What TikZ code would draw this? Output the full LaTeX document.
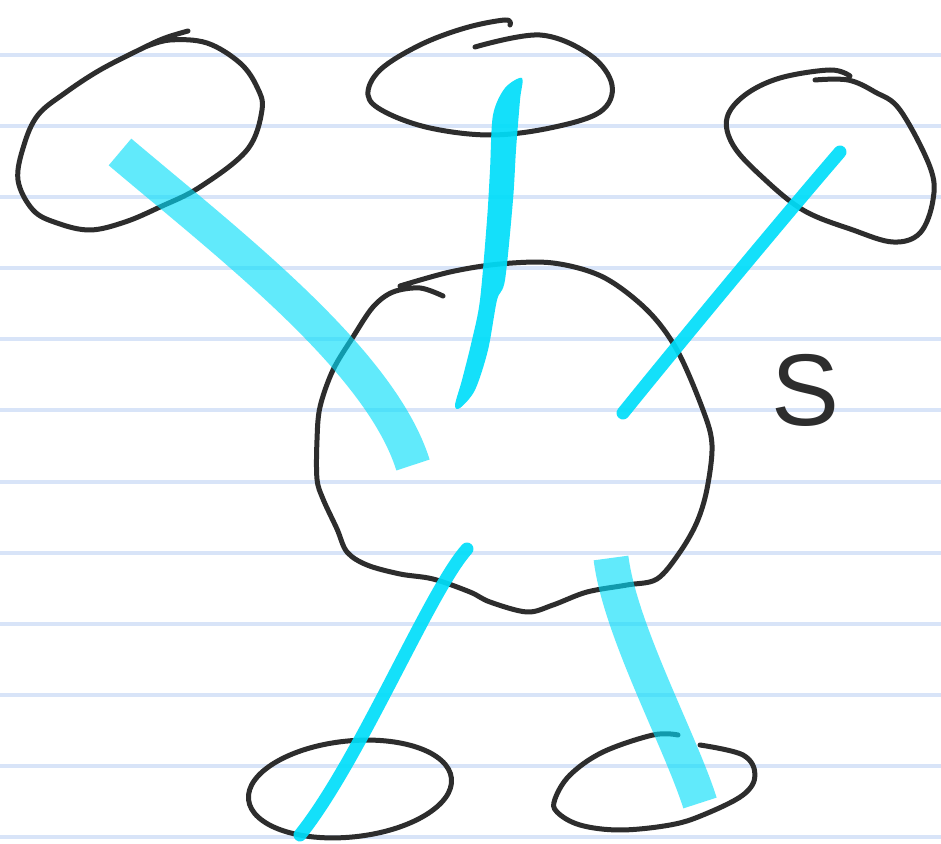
\documentclass[tikz,border=0pt]{standalone}
\usepackage{fontspec}
\newfontfamily\labelfont{Liberation Sans}
\definecolor{rulec}{RGB}{216,228,248}
\definecolor{inkc}{RGB}{45,45,45}
\definecolor{hlc}{RGB}{0,222,250}
\begin{document}
\begin{tikzpicture}[x=0.02cm,y=-0.02cm,
  ruleline/.style={draw=rulec, line width=0.08cm},
  inkline/.style={draw=inkc, line width=0.1cm, line cap=round, line join=round},
  thickhl/.style={draw=hlc, opacity=0.62, line width=0.7cm, line cap=butt},
  thinhl/.style={draw=hlc, opacity=0.92, line width=0.26cm, line cap=round},
  fillhl/.style={fill=hlc, opacity=0.92},
  labeltext/.style={font=\labelfont\fontsize{58}{60}\selectfont, text=inkc, inner sep=0pt}]
\fill[white] (0,0) rectangle (941,844);
\useasboundingbox (0,0) rectangle (941,844);
% ruled paper
\foreach \k in {0,...,11} \draw[ruleline] (0,{55+71.1*\k}) -- (941,{55+71.1*\k});
% top-left ellipse
\draw[inkline] plot[smooth, tension=0.6] coordinates {(188,31) (165,38) (143,48) (100,70) (65,93) (38,115) (24,145) (18,180) (33,210) (57,223) (90,230) (125,222) (160,207) (200,187) (247,150) (262,110) (257,87) (240,63) (207,43) (170,40) (145,47)};
% top-center ellipse
\draw[inkline] plot[smooth, tension=0.6] coordinates {(475,47) (540,35) (590,55) (612,85) (600,112) (550,128) (490,135) (430,128) (385,112) (368,95) (380,70) (420,45) (465,28) (505,20) (510,25)};
% top-right ellipse
\draw[inkline] plot[smooth, tension=0.6] coordinates {(815,80) (848,80) (875,92) (900,110) (930,167) (933,200) (920,233) (893,242) (853,230) (803,210) (760,175) (733,145) (727,118) (745,95) (780,78) (830,70) (850,76)};
% central blob
\draw[inkline] plot[smooth, tension=0.55] coordinates {(443,296) (420,288) (393,292) (373,307) (353,337) (333,370) (320,407) (317,440) (317,479) (323,499) (337,529) (347,552) (367,565) (400,574) (433,579) (470,592) (490,602) (527,612) (553,605) (587,592) (627,585) (657,579) (680,552) (697,522) (707,489) (712,445) (703,410) (677,350) (647,310) (603,277) (553,263) (500,264) (450,272) (400,286)};
% bottom-left ellipse
\draw[inkline, rotate around={6:(350,789)}] (350,789) ellipse [x radius=102, y radius=48];
% bottom-right ellipse
\draw[inkline] plot[smooth, tension=0.6] coordinates {(700,745) (743,755) (755,775) (743,795) (703,815) (670,825) (620,830) (580,825) (557,812) (555,799) (570,775) (603,752) (653,735) (678,735)};
% label
\node[labeltext] (s) at (805,390) {S};
% hub points in the blob
\coordinate (hA) at (413,465);
\coordinate (hB) at (460,408);
\coordinate (hC) at (623,413);
\coordinate (hD) at (467,549);
\coordinate (hE) at (611,558);
% ends in the satellites
\coordinate (eA) at (120,152);
\coordinate (eB) at (522,78);
\coordinate (eC) at (840,152);
\coordinate (eD) at (300,835);
\coordinate (eE) at (700,803);
% highlighter strokes
\draw[thickhl] (eA) .. controls (230,245) and (380,360) .. (hA);
\fill[fillhl] plot[smooth cycle, tension=0.5] coordinates {(eB) (520,100) (516,150) (513,200) (505,280) (497,300) (488,350) (475,390) (hB) (455,405) (462,380) (472,340) (480,300) (487,220) (490,170) (493,115) (505,88)};
\draw[thinhl] (eC) .. controls (790,210) and (690,330) .. (hC);
\draw[thinhl] (hD) .. controls (430,590) and (360,760) .. (eD);
\draw[thickhl] (hE) .. controls (620,630) and (680,740) .. (eE);
\end{tikzpicture}
\end{document}
